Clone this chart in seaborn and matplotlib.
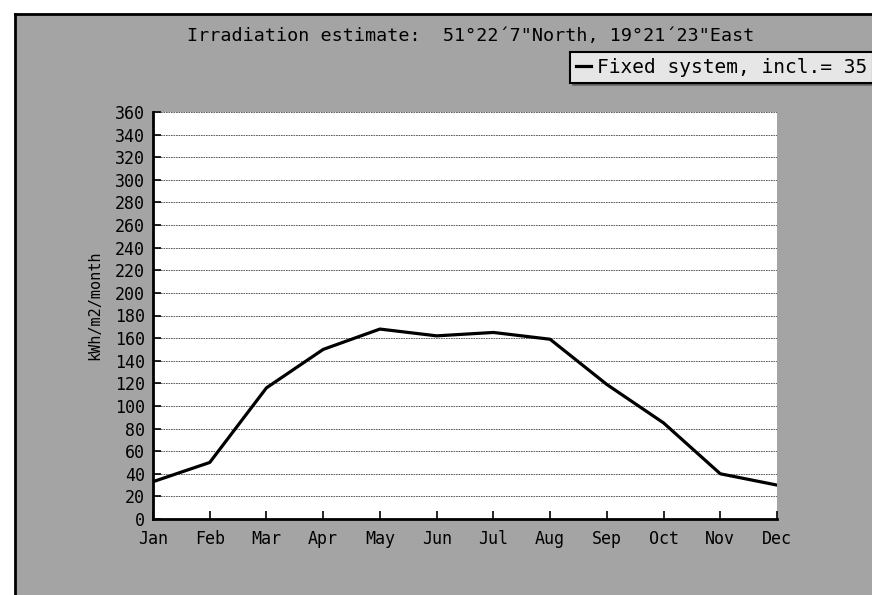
import matplotlib
matplotlib.use("Agg")
import matplotlib.pyplot as plt
import matplotlib.patches as mpatches
import matplotlib.lines as mlines
import seaborn as sns
import pandas as pd

months = ["Jan", "Feb", "Mar", "Apr", "May", "Jun", "Jul", "Aug", "Sep", "Oct", "Nov", "Dec"]
irradiation = [33, 50, 116, 150, 168, 162, 165, 159, 119, 85, 40, 30]
yticks = list(range(0, 361, 20))
title = "Irradiation estimate:  51\u00b022\u00b47\"North, 19\u00b021\u00b423\"East"
series_label = "Fixed system, incl.= 35"

df = pd.DataFrame({"idx": range(len(months)), "month": months, "value": irradiation})

plt.rcParams['font.family'] = ['DejaVu Sans Mono', 'DejaVu Sans']
W, H = 872, 595
bg = '#a4a4a4'
fig = plt.figure(figsize=(8.72, 5.95), dpi=100, facecolor='white')

# grey panel (scanned page look) with dark top/left edges
fig.patches.append(mpatches.Rectangle((15/W, 0), 1 - 15/W, 1 - 14/H, transform=fig.transFigure,
                                      facecolor=bg, edgecolor='none', zorder=-2))
fig.lines.append(mlines.Line2D([15/W, 1], [1 - 14/H, 1 - 14/H], transform=fig.transFigure,
                               color='black', linewidth=2, zorder=-1))
fig.lines.append(mlines.Line2D([15/W, 15/W], [0, 1 - 14/H], transform=fig.transFigure,
                               color='black', linewidth=2, zorder=-1))

ax = fig.add_axes([153/W, 1 - 519/H, 624/W, (519 - 112)/H])
ax.set_zorder(3)
ax.set_facecolor('white')

sns.lineplot(data=df, x="idx", y="value", ax=ax, color='black', linewidth=2.3,
             label=series_label, legend=False)

ax.set_xlim(0, 11)
ax.set_ylim(0, 360)
ax.set_xticks(range(len(months)))
ax.set_xticklabels(months, fontsize=12)
ax.set_yticks(yticks)
ax.set_yticklabels([str(v) for v in yticks], fontsize=12)
ax.tick_params(axis='x', direction='in', length=6, width=1.2, color='black', pad=8)
ax.tick_params(axis='y', direction='in', length=6, width=1.2, color='black', pad=6)
ax.grid(axis='y', color='#444444', linestyle=(0, (2, 1)), linewidth=0.6)
ax.set_axisbelow(True)
for s in ['top', 'right']:
    ax.spines[s].set_visible(False)
for s in ['left', 'bottom']:
    ax.spines[s].set_linewidth(2)
    ax.spines[s].set_color('black')
ax.set_xlabel("")
ax.set_ylabel("kWh/m2/month", fontsize=11)
ax.yaxis.set_label_coords((102 - 153) / 624, (519 - 305) / 407)

fig.text(471/W, 1 - 36/H, title, ha='center', va='center', fontsize=13.2, zorder=5)

leg = fig.legend(handles=ax.get_lines()[:1], labels=[series_label], loc='upper left',
                 bbox_to_anchor=(570/W, 1 - 52/H), fontsize=14, handlelength=0.8,
                 handletextpad=0.3, fancybox=False, shadow=True, framealpha=1,
                 borderpad=0.3, borderaxespad=0)
leg.set_zorder(5)
leg.get_frame().set_edgecolor('black')
leg.get_frame().set_facecolor('#e6e6e6')
leg.get_frame().set_linewidth(1.5)

fig.savefig("out.png", dpi=100, facecolor='white')
